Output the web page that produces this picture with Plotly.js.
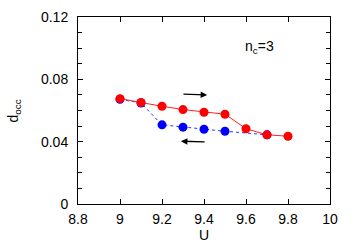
<!DOCTYPE html>
<html><head><meta charset="utf-8">
<script src="https://cdn.plot.ly/plotly-3.0.1.min.js"></script>
<style>html,body{margin:0;padding:0;background:#fff}</style>
</head><body><div id="c" style="width:354px;height:245px"></div>
<script>
const uUp = [9.0, 9.1, 9.2, 9.3, 9.4, 9.5, 9.6, 9.7, 9.8];
const dUp = [0.0676, 0.0651, 0.0627, 0.0606, 0.0589, 0.0576, 0.0483, 0.0444, 0.0435];
const uDown = [9.0, 9.1, 9.2, 9.3, 9.4, 9.5, 9.7];
const dDown = [0.0672, 0.0648, 0.0508, 0.0493, 0.0480, 0.0467, 0.0444];
const xTicks = [8.8, 9, 9.2, 9.4, 9.6, 9.8, 10];
const yTicks = [0, 0.04, 0.08, 0.12];
const yTickLabels = ['0', '0.04', '0.08', '0.12'];

const font = {family: 'Liberation Sans, Arial, sans-serif', size: 14, color: '#000'};
const traces = [
  {x: uDown, y: dDown, mode: 'lines+markers', line: {color: '#3030ff', width: 1, dash: 'dot'},
   marker: {color: '#0000ff', size: 9}, showlegend: false},
  {x: uUp, y: dUp, mode: 'lines+markers', line: {color: '#ff2020', width: 1},
   marker: {color: '#ff0000', size: 9}, showlegend: false}
];
const layout = {
  width: 354, height: 245,
  margin: {l: 78, r: 24, t: 17, b: 41},
  paper_bgcolor: '#fff', plot_bgcolor: '#fff',
  font: font,
  xaxis: {range: [8.8, 10], tickvals: xTicks, ticktext: xTicks.map(String),
    ticks: 'inside', ticklen: 5, tickcolor: '#000', mirror: 'ticks', ticklabelstandoff: 2,
    showline: true, linecolor: '#000', linewidth: 1, showgrid: false, zeroline: false,
    tickfont: font},
  yaxis: {range: [0, 0.12], tickvals: yTicks, ticktext: yTickLabels,
    ticks: 'inside', ticklen: 5, tickcolor: '#000', mirror: 'ticks', ticklabelstandoff: 6,
    showline: true, linecolor: '#000', linewidth: 1, showgrid: false, zeroline: false,
    minor: {dtick: 0.01, ticks: 'inside', ticklen: 4, tickcolor: '#000', showgrid: false},
    tickfont: font},
  annotations: [
    {x: 0.5, y: -0.168, xref: 'paper', yref: 'paper', text: 'U', showarrow: false, font: font,
     xanchor: 'center', yanchor: 'middle', borderpad: 0},
    {x: -0.254, y: 0.5, xref: 'paper', yref: 'paper', text: 'd<sub>occ</sub>', showarrow: false, font: font,
     textangle: -90, xanchor: 'center', yanchor: 'middle'},
    {x: 9.665, y: 0.1005, xref: 'x', yref: 'y', text: 'n<sub>c</sub>=3', showarrow: false, font: font},
    {x: 9.415, y: 0.0700, ax: 9.295, ay: 0.0705, xref: 'x', yref: 'y', axref: 'x', ayref: 'y',
     text: '', showarrow: true, arrowhead: 2, arrowsize: 1, arrowwidth: 1.3, arrowcolor: '#000'},
    {x: 9.29, y: 0.0403, ax: 9.41, ay: 0.0398, xref: 'x', yref: 'y', axref: 'x', ayref: 'y',
     text: '', showarrow: true, arrowhead: 2, arrowsize: 1, arrowwidth: 1.3, arrowcolor: '#000'}
  ]
};
Plotly.newPlot('c', traces, layout, {displayModeBar: false, staticPlot: true});
</script></body></html>
